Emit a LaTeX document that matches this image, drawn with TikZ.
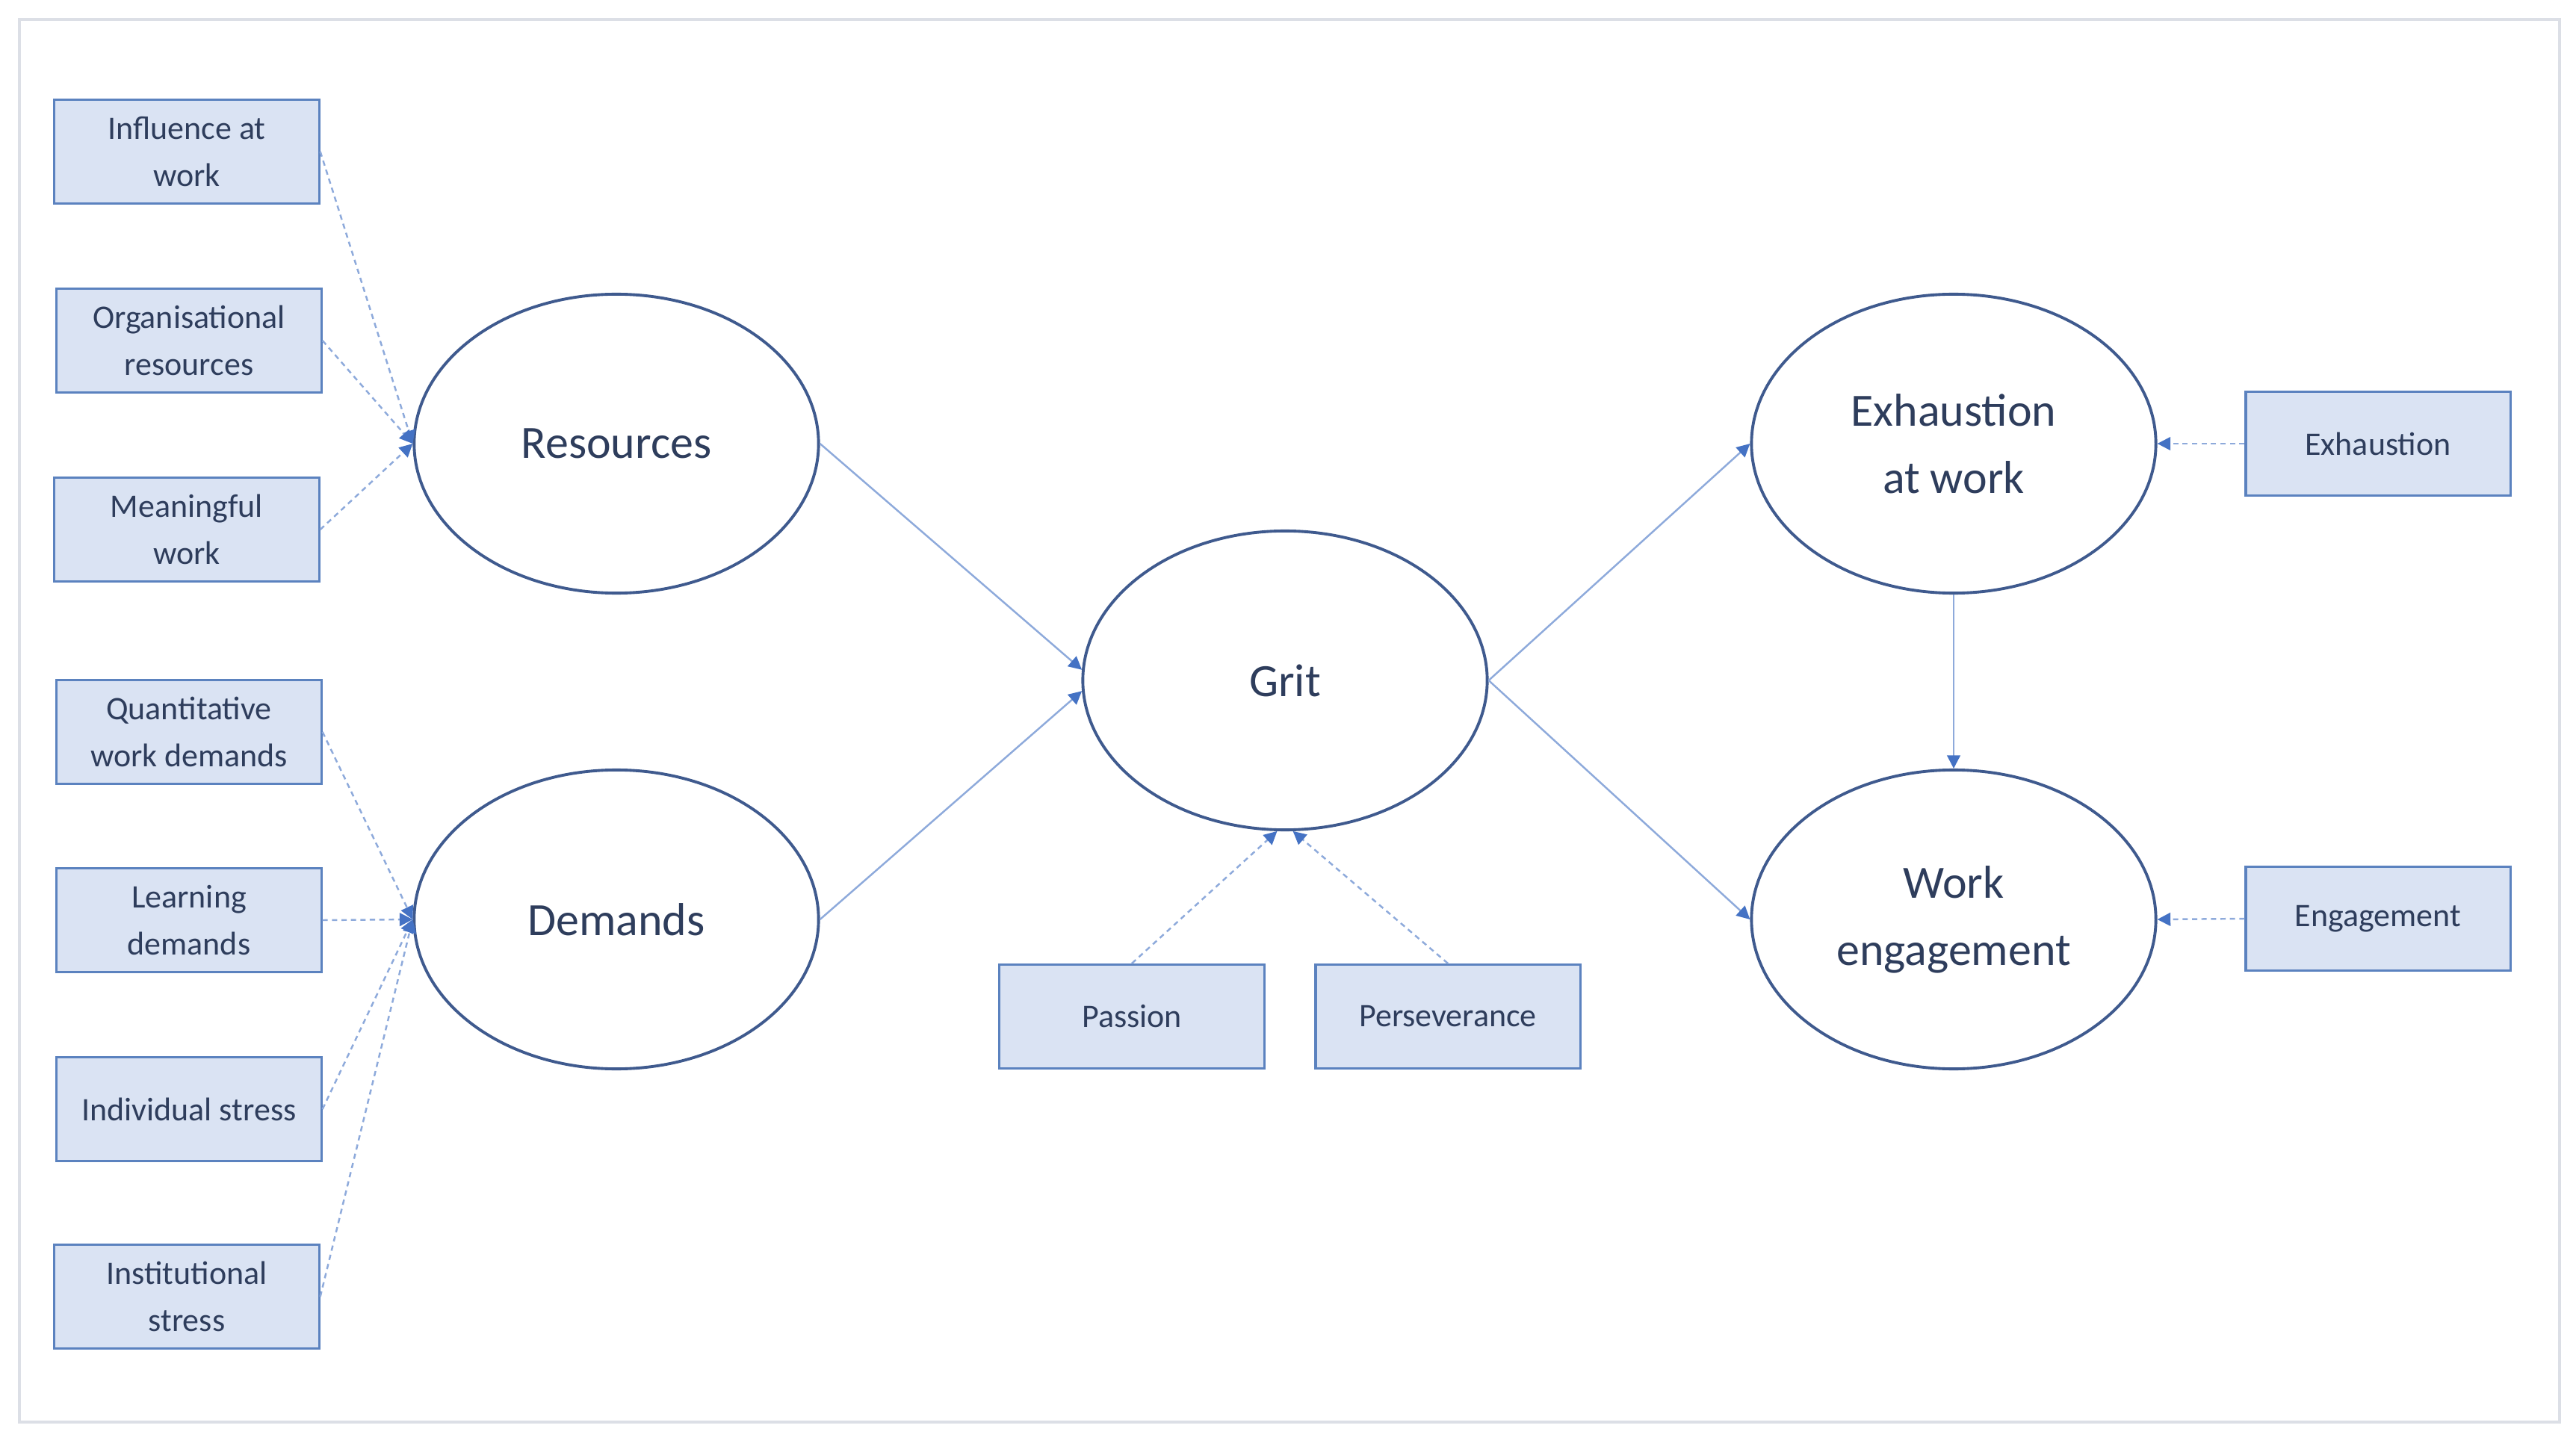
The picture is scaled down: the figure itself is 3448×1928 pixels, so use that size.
\documentclass[tikz,border=0pt]{standalone}
\usepackage{fontspec}
\setmainfont{Carlito}
\usetikzlibrary{arrows.meta,shapes.geometric}
\definecolor{txt}{HTML}{2E3D5C}
\definecolor{ellborder}{HTML}{3F5A8E}
\definecolor{boxfill}{HTML}{DAE3F3}
\definecolor{boxborder}{HTML}{5B82BF}
\definecolor{linecol}{HTML}{8EAADB}
\definecolor{tipcol}{HTML}{4472C4}
\definecolor{framecol}{HTML}{DCDFE6}
\tikzset{
  indbox/.style={draw=boxborder, fill=boxfill, line width=0.9pt, minimum width=3.54cm, minimum height=1.39cm,
    inner sep=0pt, align=center, text=txt, font=\fontsize{12.5}{18}\selectfont},
  latent/.style={draw=ellborder, ellipse, line width=1.1pt, minimum width=5.41cm, minimum height=4.0cm,
    inner sep=0pt, align=center, text=txt, font=\fontsize{17.6}{25.6}\selectfont},
  dashconn/.style={draw=linecol, line width=0.7pt, dash pattern=on 2pt off 1.6pt,
    -{Triangle[length=5pt,width=5pt,color=tipcol,fill=tipcol]}},
  solidconn/.style={draw=linecol, line width=0.7pt,
    -{Triangle[length=5pt,width=5pt,color=tipcol,fill=tipcol]}},
}
\begin{document}
\begin{tikzpicture}[x=0.01cm,y=-0.01cm]
\useasboundingbox (0,0) rectangle (3448,1928);
\draw[framecol, line width=1.2pt] (26,26) rectangle (3426,1904);
% indicator boxes
\node[indbox] (infl) at (250,203) {Influence at\\work};
\node[indbox] (org) at (253,456) {Organisational\\resources};
\node[indbox] (mean) at (250,709) {Meaningful\\work};
\node[indbox] (quant) at (253,980) {Quantitative\\work demands};
\node[indbox] (learn) at (253,1232) {Learning\\demands};
\node[indbox] (indiv) at (253,1485) {Individual stress};
\node[indbox] (inst) at (250,1736) {Institutional\\stress};
\node[indbox] (pass) at (1515,1361) {Passion};
\node[indbox] (pers) at (1938,1361) {Perseverance};
\node[indbox] (exhbox) at (3183,594) {Exhaustion};
\node[indbox] (engbox) at (3183,1230) {Engagement};
% latent variables
\node[latent] (res) at (825,594) {Resources};
\node[latent] (dem) at (825,1231) {Demands};
\node[latent] (grit) at (1720,911) {Grit};
\node[latent] (exh) at (2615,594) {Exhaustion\\at work};
\node[latent] (eng) at (2615,1231) {Work\\engagement};
% dashed indicator arrows
\draw[dashconn] (infl.east) -- (res.west);
\draw[dashconn] (org.east) -- (res.west);
\draw[dashconn] (mean.east) -- (res.west);
\draw[dashconn] (quant.east) -- (dem.west);
\draw[dashconn] (learn.east) -- (dem.west);
\draw[dashconn] (indiv.east) -- (dem.west);
\draw[dashconn] (inst.east) -- (dem.west);
\draw[dashconn] (pass.north) -- (grit.-93);
\draw[dashconn] (pers.north) -- (grit.-87);
\draw[dashconn] (exhbox.west) -- (exh.east);
\draw[dashconn] (engbox.west) -- (eng.east);
% structural paths
\draw[solidconn] (res.east) -- (grit.177);
\draw[solidconn] (dem.east) -- (grit.183);
\draw[solidconn] (grit.east) -- (exh.west);
\draw[solidconn] (grit.east) -- (eng.west);
\draw[solidconn] (exh.south) -- (eng.north);
\end{tikzpicture}
\end{document}
